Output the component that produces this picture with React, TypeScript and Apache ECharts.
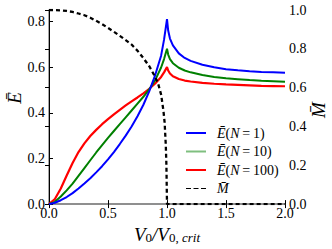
import React, { useEffect, useRef } from "react";
import * as echarts from "echarts";

const xRise = [0, 0.05, 0.1, 0.15, 0.2, 0.25, 0.3, 0.35, 0.4, 0.45, 0.5, 0.55, 0.6, 0.65, 0.7, 0.75, 0.8, 0.85, 0.9, 0.95, 0.975];
const xFall = [1.0, 1.01, 1.025, 1.05, 1.1, 1.15, 1.2, 1.3, 1.4, 1.5, 1.6, 1.7, 1.8, 1.9, 2.0];
const xVals = [...xRise, ...xFall];
const eN1 = [0, 0.006, 0.017, 0.031, 0.048, 0.068, 0.09, 0.113, 0.139, 0.166, 0.196, 0.228, 0.263, 0.3, 0.34, 0.385, 0.435, 0.495, 0.565, 0.65, 0.72,
  0.81, 0.76, 0.725, 0.695, 0.66, 0.64, 0.627, 0.61, 0.599, 0.591, 0.586, 0.582, 0.579, 0.577, 0.575];
const eN10 = [0, 0.01, 0.033, 0.06, 0.09, 0.124, 0.158, 0.192, 0.226, 0.258, 0.29, 0.32, 0.35, 0.38, 0.41, 0.44, 0.47, 0.503, 0.543, 0.598, 0.635,
  0.68, 0.655, 0.635, 0.617, 0.597, 0.585, 0.577, 0.565, 0.557, 0.551, 0.547, 0.543, 0.54, 0.538, 0.536];
const eN100 = [0, 0.022, 0.068, 0.125, 0.18, 0.228, 0.266, 0.298, 0.325, 0.35, 0.372, 0.393, 0.413, 0.432, 0.45, 0.467, 0.485, 0.505, 0.528, 0.557, 0.577,
  0.60, 0.585, 0.572, 0.56, 0.548, 0.541, 0.537, 0.531, 0.527, 0.524, 0.522, 0.52, 0.518, 0.517, 0.516];
const mX = [0, 0.05, 0.1, 0.15, 0.2, 0.25, 0.3, 0.35, 0.4, 0.45, 0.5, 0.55, 0.6, 0.65, 0.7, 0.75, 0.8, 0.85, 0.9, 0.925, 0.95, 0.97, 0.98, 0.99, 0.995, 1.0, 1.5, 2.0];
const mVals = [1.0, 1.0, 0.998, 0.995, 0.99, 0.982, 0.973, 0.96, 0.944, 0.927, 0.908, 0.888, 0.867, 0.845, 0.822, 0.79, 0.752, 0.71, 0.655, 0.62, 0.565, 0.48, 0.42, 0.3, 0.2, 0, 0, 0];

const FONT = "Times New Roman, Liberation Serif, serif";

function pairs(xs: number[], ys: number[]) {
  return xs.map((x, i) => [x, ys[i]]);
}

export default function App() {
  const ref = useRef<HTMLDivElement>(null);
  useEffect(() => {
    document.body.style.margin = "0";
    if (!ref.current) return;
    const chart = echarts.init(ref.current, undefined, { renderer: "svg" });
    const thin = "\u2009";
    const legendName = (n: string) => `{g| }{i|Ē}{n|(}{i|N}{n|${thin}=${thin}${n})}`;
    chart.setOption({
      animation: false,
      grid: { left: 49, right: 47, top: 10, bottom: 38 },
      legend: {
        orient: "vertical",
        left: 181,
        top: 121,
        itemWidth: 20,
        itemHeight: 2,
        itemGap: 4.5,
        data: [
          { name: "N1", icon: "rect", itemStyle: { color: "#0000ff" } },
          { name: "N10", icon: "rect", itemStyle: { color: "#7fbf7f" } },
          { name: "N100", icon: "rect", itemStyle: { color: "#ff0000" } },
          { name: "M", icon: "path://M0,0h5v1h-5zM7.5,0h5v1h-5zM15,0h5v1h-5z", itemStyle: { color: "#000" } },
        ],
        formatter: (name: string) => {
          if (name === "M") return "{g| }{i|M̄}";
          return legendName(name.slice(1));
        },
        textStyle: {
          fontFamily: FONT,
          fontSize: 14,
          rich: {
            g: { width: 6, fontSize: 14, lineHeight: 16 },
            i: { fontStyle: "italic", fontFamily: FONT, fontSize: 14, color: "#000", lineHeight: 16 },
            n: { fontFamily: FONT, fontSize: 14, color: "#000", lineHeight: 16 },
          },
        },
      },
      xAxis: [
        {
          type: "value",
          min: 0,
          max: 2,
          interval: 0.5,
          position: "bottom",
          axisLine: { lineStyle: { color: "#888", width: 1.5 } },
          axisTick: { inside: true, length: 4, lineStyle: { color: "#000" } },
          splitLine: { show: false },
          axisLabel: {
            margin: 2,
            fontFamily: FONT,
            fontSize: 14,
            color: "#000",
            formatter: (v: number) => v.toFixed(1),
          },
          name: "{v|V}{s0|0}{v|/V}{s0|0,}{sc| crit}",
          nameLocation: "middle",
          nameGap: 14,
          nameTextStyle: {
            fontFamily: FONT,
            rich: {
              v: { fontStyle: "italic", fontFamily: FONT, fontSize: 19, color: "#000", lineHeight: 22, verticalAlign: "bottom" },
              s0: { fontFamily: FONT, fontSize: 13, color: "#000", lineHeight: 8, verticalAlign: "bottom" },
              sc: { fontStyle: "italic", fontFamily: FONT, fontSize: 13, color: "#000", lineHeight: 8, verticalAlign: "bottom" },
            },
          },
        },
        {
          type: "value",
          min: 0,
          max: 2,
          interval: 0.5,
          position: "top",
          axisLine: { lineStyle: { color: "#888", width: 1.5 } },
          axisTick: { inside: true, length: 4, lineStyle: { color: "#000" } },
          axisLabel: { show: false },
          splitLine: { show: false },
        },
      ],
      yAxis: [
        {
          type: "value",
          min: 0,
          max: 0.85,
          interval: 0.2,
          position: "left",
          axisLine: { show: true, lineStyle: { color: "#888", width: 1.5 } },
          axisTick: { show: true, inside: true, length: 4, lineStyle: { color: "#000" } },
          splitLine: { show: false },
          axisLabel: {
            margin: 4,
            fontFamily: FONT,
            fontSize: 14,
            color: "#000",
            formatter: (v: number) => (Math.abs(v * 5 - Math.round(v * 5)) < 1e-6 ? v.toFixed(1) : ""),
          },
        },
        {
          type: "value",
          min: 0,
          max: 1,
          interval: 0.2,
          position: "right",
          axisLine: { show: true, lineStyle: { color: "#000", width: 1 } },
          axisTick: { show: true, inside: true, length: 4, lineStyle: { color: "#000" } },
          splitLine: { show: false },
          axisLabel: {
            margin: 4,
            fontFamily: FONT,
            fontSize: 14,
            color: "#000",
            formatter: (v: number) => v.toFixed(1),
          },
        },
      ],
      graphic: [
        {
          type: "text",
          x: 14,
          y: 98,
          rotation: Math.PI / 2,
          style: { text: "Ē", font: `italic 19px ${FONT}`, fill: "#000", align: "center", verticalAlign: "middle" },
        },
        {
          type: "text",
          x: 318,
          y: 110,
          rotation: Math.PI / 2,
          style: { text: "M̄", font: `italic 19px ${FONT}`, fill: "#000", align: "center", verticalAlign: "middle" },
        },
      ],
      series: [
        {
          name: "N1",
          type: "line",
          data: pairs(xVals, eN1),
          showSymbol: false,
          lineStyle: { color: "#0000ff", width: 2 },
          itemStyle: { color: "#0000ff" },
          z: 5,
        },
        {
          name: "N10",
          type: "line",
          data: pairs(xVals, eN10),
          showSymbol: false,
          lineStyle: { color: "#008000", width: 2 },
          itemStyle: { color: "#008000" },
          z: 4,
        },
        {
          name: "N100",
          type: "line",
          data: pairs(xVals, eN100),
          showSymbol: false,
          lineStyle: { color: "#ff0000", width: 2.2 },
          itemStyle: { color: "#ff0000" },
          z: 3,
        },
        {
          name: "M",
          type: "line",
          yAxisIndex: 1,
          data: pairs(mX, mVals),
          showSymbol: false,
          lineStyle: { color: "#000", width: 2.3, type: [4, 3] },
          itemStyle: { color: "#000" },
          z: 6,
        },
      ],
    });
    return () => chart.dispose();
  }, []);
  return <div ref={ref} style={{ width: 332, height: 249 }} />;
}
